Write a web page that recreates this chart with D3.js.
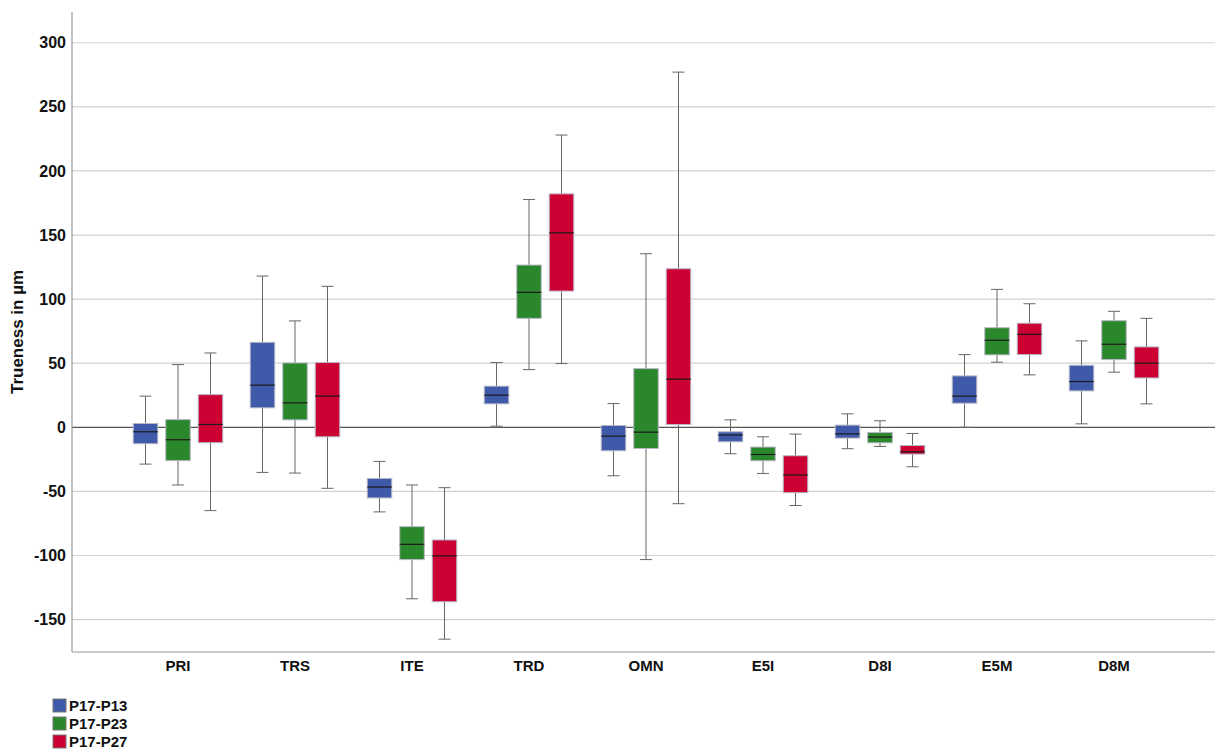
<!DOCTYPE html>
<html>
<head>
<meta charset="utf-8">
<script src="https://cdn.jsdelivr.net/npm/d3@7"></script>
<style>
  body { margin: 0; background: #fff; }
  svg { display: block; font-family: "Liberation Sans", Arial, sans-serif; }
</style>
</head>
<body>
<div id="chart"></div>
<script>
// categories and groups
const categories = ["PRI", "TRS", "ITE", "TRD", "OMN", "E5I", "D8I", "E5M", "D8M"];
const groups = ["P17-P13", "P17-P23", "P17-P27"];
const colors = ["#3F5AA8", "#2B872B", "#CC0033"];

// box stats per group, one entry per category: [whiskerLow, q1, median, q3, whiskerHigh]
const p13 = [
  [-28.7, -12.8, -3.5, 3.0, 24.3],
  [-35.2, 15.2, 32.9, 66.3, 118],
  [-66.0, -55.1, -46.6, -39.9, -26.6],
  [0.9, 18.3, 25.1, 32.1, 50.5],
  [-37.8, -18.3, -6.9, 1.4, 18.5],
  [-20.6, -11.3, -6.0, -3.5, 5.8],
  [-16.7, -8.4, -5.1, 1.7, 10.5],
  [0.0, 18.8, 24.3, 40.1, 56.7],
  [2.7, 28.4, 35.7, 48.4, 67.4]
];
const p23 = [
  [-45.0, -26.0, -9.7, 6.0, 48.9],
  [-35.7, 5.8, 19.1, 50.2, 83],
  [-133.8, -103.2, -91.3, -77.5, -45.0],
  [45.0, 85.0, 105.3, 126.6, 177.7],
  [-103.2, -16.5, -3.8, 45.8, 135.4],
  [-36.0, -26.1, -21.2, -15.4, -7.4],
  [-14.9, -12.1, -7.6, -4.0, 5.1],
  [50.8, 56.5, 67.9, 77.7, 107.6],
  [43.0, 52.8, 64.8, 83.2, 90.5]
];
const p27 = [
  [-65.0, -12.0, 2.2, 25.5, 58.0],
  [-47.6, -7.4, 24.3, 50.5, 110],
  [-165.3, -136.1, -100.3, -87.9, -47.1],
  [49.7, 106.3, 151.7, 182.1, 228.0],
  [-59.6, 2.2, 37.5, 123.7, 277.1],
  [-61.0, -51.0, -37.2, -22.2, -5.3],
  [-30.8, -20.9, -19.1, -14.2, -4.8],
  [40.9, 56.7, 72.6, 81.2, 96.4],
  [18.3, 38.5, 50.0, 62.7, 85.0]
];
const yTicks = [-150, -100, -50, 0, 50, 100, 150, 200, 250, 300];

const width = 1218, height = 751;
const axisLeft = 72, axisRight = 1215, plotTop = 12, plotBottom = 652;

const series = [p13, p23, p27];
const rows = [];
categories.forEach((c, i) => {
  series.forEach((s, g) => {
    const [lo, q1, med, q3, hi] = s[i];
    rows.push({cat: c, g, lo, q1, med, q3, hi});
  });
});

const x = d3.scaleBand()
  .domain(categories)
  .range([119.5, 1172.5]);

const gx = d3.scalePoint()
  .domain(d3.range(groups.length))
  .range([-32.5, 32.5]);

const y = d3.scaleLinear()
  .domain([-175.3, 324])
  .range([plotBottom, plotTop]);

const boxW = 24.5, capW = 12;

const svg = d3.select("#chart").append("svg")
  .attr("width", width)
  .attr("height", height)
  .attr("viewBox", [0, 0, width, height]);

// grid lines
svg.append("g")
  .selectAll("line")
  .data(yTicks)
  .join("line")
    .attr("x1", axisLeft).attr("x2", axisRight)
    .attr("y1", d => y(d)).attr("y2", d => y(d))
    .attr("stroke", d => d === 0 ? "#555" : "#d2d2d2")
    .attr("stroke-width", 1.2);

// y axis labels (plain hyphen minus, like the original)
svg.append("g")
  .attr("transform", `translate(${axisLeft},0)`)
  .call(d3.axisLeft(y).tickValues(yTicks).tickFormat(d => String(d)).tickSize(0).tickPadding(6))
  .call(g => g.select(".domain").remove())
  .call(g => g.selectAll("text")
    .attr("font-size", 16)
    .attr("font-weight", "bold")
    .attr("fill", "#111")
    .attr("font-family", "Liberation Sans, Arial, sans-serif"));

// x axis labels
svg.append("g")
  .attr("transform", `translate(0,${plotBottom})`)
  .call(d3.axisBottom(x).tickSize(0).tickPadding(8))
  .call(g => g.select(".domain").remove())
  .call(g => g.selectAll("text")
    .attr("font-size", 15)
    .attr("font-weight", "bold")
    .attr("fill", "#111")
    .attr("font-family", "Liberation Sans, Arial, sans-serif"));

// axis lines
svg.append("line")
  .attr("x1", axisLeft).attr("x2", axisLeft)
  .attr("y1", plotTop).attr("y2", plotBottom)
  .attr("stroke", "#999").attr("stroke-width", 1.2);
svg.append("line")
  .attr("x1", axisLeft).attr("x2", axisRight)
  .attr("y1", plotBottom).attr("y2", plotBottom)
  .attr("stroke", "#999").attr("stroke-width", 1.2);

// y title
svg.append("text")
  .attr("transform", `translate(23,${(y(-175.3) + y(324)) / 2}) rotate(-90)`)
  .attr("text-anchor", "middle")
  .attr("font-size", 17)
  .attr("font-weight", "bold")
  .attr("fill", "#111")
  .text("Trueness in µm");

// boxes
const cx = d => x(d.cat) + x.bandwidth() / 2 + gx(d.g);
const box = svg.append("g")
  .selectAll("g")
  .data(rows)
  .join("g");

box.append("line")
  .attr("x1", cx).attr("x2", cx)
  .attr("y1", d => y(d.lo)).attr("y2", d => y(d.hi))
  .attr("stroke", "#666").attr("stroke-width", 1);

box.append("line")
  .attr("x1", d => cx(d) - capW / 2).attr("x2", d => cx(d) + capW / 2)
  .attr("y1", d => y(d.hi)).attr("y2", d => y(d.hi))
  .attr("stroke", "#666").attr("stroke-width", 1);

box.append("line")
  .attr("x1", d => cx(d) - capW / 2).attr("x2", d => cx(d) + capW / 2)
  .attr("y1", d => y(d.lo)).attr("y2", d => y(d.lo))
  .attr("stroke", "#666").attr("stroke-width", 1);

box.append("rect")
  .attr("x", d => cx(d) - boxW / 2)
  .attr("width", boxW)
  .attr("y", d => y(d.q3))
  .attr("height", d => y(d.q1) - y(d.q3))
  .attr("fill", d => colors[d.g])
  .attr("stroke", "#b8b8c8")
  .attr("stroke-width", 1);

box.append("line")
  .attr("x1", d => cx(d) - boxW / 2).attr("x2", d => cx(d) + boxW / 2)
  .attr("y1", d => y(d.med)).attr("y2", d => y(d.med))
  .attr("stroke", "#1a1a1a").attr("stroke-width", 1.2);

// legend
const legend = svg.append("g")
  .selectAll("g")
  .data(groups)
  .join("g")
    .attr("transform", (d, i) => `translate(53,${699 + i * 18})`);

legend.append("rect")
  .attr("width", 13).attr("height", 13)
  .attr("fill", (d, i) => colors[i])
  .attr("stroke", "#777");

legend.append("text")
  .attr("x", 16).attr("y", 12)
  .attr("font-size", 15)
  .attr("font-weight", "bold")
  .attr("fill", "#111")
  .text(d => d);
</script>
</body>
</html>
